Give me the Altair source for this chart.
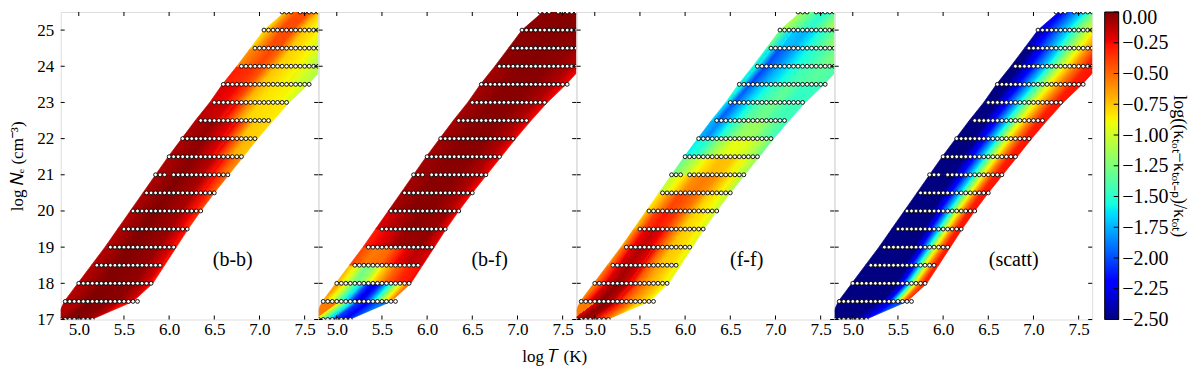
import altair as alt
import numpy as np
import pandas as pd

# ---------------- axes / ticks ----------------
T_DOMAIN = [4.8, 7.65]
NE_DOMAIN = [17.0, 25.5]
T_TICKS = [5.0, 5.5, 6.0, 6.5, 7.0, 7.5]
NE_TICKS = [17, 18, 19, 20, 21, 22, 23, 24, 25]
CB_TICKS = [-2.5, -2.25, -2.0, -1.75, -1.5, -1.25, -1.0, -0.75, -0.5, -0.25, 0.0]
PANEL_LABELS = ["(b-b)", "(b-f)", "(f-f)", "(scatt)"]
X_TITLE = "log 𝑇 (K)"
Y_TITLE = "log 𝑁ₑ (cm⁻³)"
CB_TITLE = "log((κₜₒₜ−κₜₒₜ₋ₚ)/κₜₒₜ)"

# ---------------- band outline (log Ne, left log T, right log T) ----------------
BAND_NE = [17.0, 17.5, 18.0, 18.5, 19.0, 19.5, 20.0, 20.5, 21.0, 21.5,
           22.0, 22.5, 23.0, 23.5, 24.0, 24.5, 25.0, 25.5]
BAND_LEFT = [4.75, 4.84, 4.99, 5.14, 5.29, 5.43, 5.57, 5.71, 5.85, 5.99,
             6.14, 6.29, 6.45, 6.59, 6.75, 6.90, 7.05, 7.28]
BAND_RIGHT = [5.14, 5.60, 5.82, 5.95, 6.08, 6.21, 6.35, 6.50, 6.66, 6.82,
              6.98, 7.15, 7.33, 7.54, 7.72, 7.88, 8.04, 8.20]

# ---------------- grid points (rows of log Ne) ----------------
ROW_NE = [17.0, 17.5, 18.0, 18.5, 19.0, 19.5, 20.0, 20.5, 21.0, 21.5,
          22.0, 22.5, 23.0, 23.5, 24.0, 24.5, 25.0, 25.5]
ROW_T_START = [4.80, 4.85, 5.00, 5.20, 5.35, 5.50, 5.60, 5.75, 5.85, 6.00,
               6.15, 6.35, 6.50, 6.60, 6.80, 6.95, 7.05, 7.25]
ROW_T_END = [5.15, 5.65, 5.80, 5.90, 6.05, 6.20, 6.35, 6.50, 6.65, 6.80,
             6.95, 7.10, 7.30, 7.55, 7.65, 7.65, 7.65, 7.65]
ROW_T_MISSING = [[], [], [], [], [], [], [], [], [6.00], [],
                 [], [], [], [], [], [], [], [7.40]]
T_STEP = 0.05

# ---------------- colour field: one list per 0.5-dex slab in Ne, stops (s across band, value) ----------------
BB_STOPS = [
    [(0, -0.1), (0.35, 0.0), (0.7, -0.03), (0.9, -0.12), (1, -0.25)],
    [(0, -0.12), (0.35, 0.0), (0.75, -0.03), (0.93, -0.15), (1, -0.25)],
    [(0, -0.12), (0.35, 0.0), (0.75, -0.04), (0.93, -0.18), (1, -0.28)],
    [(0, -0.12), (0.35, 0.0), (0.74, -0.05), (0.93, -0.2), (1, -0.3)],
    [(0, -0.12), (0.35, 0.0), (0.74, -0.06), (0.92, -0.22), (1, -0.32)],
    [(0, -0.12), (0.35, 0.0), (0.74, -0.08), (0.91, -0.25), (1, -0.35)],
    [(0, -0.1), (0.35, 0.0), (0.72, -0.1), (0.9, -0.28), (1, -0.42)],
    [(0, -0.1), (0.35, 0.0), (0.68, -0.1), (0.85, -0.3), (1, -0.5)],
    [(0, -0.1), (0.35, -0.02), (0.62, -0.12), (0.78, -0.3), (0.9, -0.5), (1, -0.6)],
    [(0, -0.1), (0.3, -0.03), (0.55, -0.2), (0.72, -0.45), (0.85, -0.7), (1, -0.75)],
    [(0, -0.1), (0.25, -0.05), (0.5, -0.22), (0.65, -0.45), (0.78, -0.75), (1, -0.8)],
    [(0, -0.12), (0.25, -0.18), (0.4, -0.35), (0.52, -0.6), (0.65, -0.8), (1, -0.85)],
    [(0, -0.2), (0.2, -0.25), (0.32, -0.4), (0.45, -0.7), (0.6, -0.82), (0.85, -0.88), (1, -1.0)],
    [(0, -0.3), (0.2, -0.35), (0.32, -0.45), (0.45, -0.75), (0.6, -0.82), (0.8, -0.95), (1, -1.1)],
    [(0, -0.6), (0.12, -0.5), (0.25, -0.4), (0.35, -0.5), (0.47, -0.78), (0.65, -0.85), (0.8, -1.0), (0.92, -1.15), (1, -1.2)],
    [(0, -0.8), (0.1, -0.6), (0.2, -0.42), (0.32, -0.42), (0.45, -0.75), (0.6, -0.85), (0.72, -1.0), (0.8, -1.15), (1, -1.2)],
    [(0, -0.8), (0.07, -0.6), (0.17, -0.42), (0.3, -0.42), (0.42, -0.75), (0.55, -0.9), (0.62, -1.05), (0.7, -1.15), (1, -1.2)],
]
BF_STOPS = [
    [(0, -0.55), (0.18, -0.85), (0.38, -1.5), (0.55, -2.05), (0.75, -2.2), (1, -1.9)],
    [(0, -0.65), (0.14, -0.95), (0.3, -1.55), (0.43, -2.05), (0.52, -2.3), (0.62, -2.05), (0.74, -1.55), (0.87, -0.95), (1, -0.5)],
    [(0, -0.7), (0.12, -0.95), (0.25, -1.3), (0.36, -1.15), (0.48, -0.8), (0.65, -0.5), (0.82, -0.32), (1, -0.25)],
    [(0, -0.4), (0.2, -0.55), (0.4, -0.5), (0.6, -0.25), (0.8, -0.12), (1, -0.2)],
    [(0, -0.3), (0.25, -0.2), (0.45, -0.06), (0.8, -0.04), (1, -0.22)],
    [(0, -0.2), (0.3, -0.08), (0.5, -0.02), (0.85, -0.06), (1, -0.25)],
    [(0, -0.08), (0.3, -0.02), (0.6, -0.02), (0.85, -0.1), (1, -0.25)],
    [(0, -0.08), (0.3, -0.02), (0.6, -0.02), (0.85, -0.1), (1, -0.25)],
    [(0, -0.08), (0.3, -0.02), (0.6, -0.02), (0.85, -0.1), (1, -0.25)],
    [(0, -0.08), (0.3, -0.02), (0.6, -0.02), (0.85, -0.1), (1, -0.25)],
    [(0, -0.08), (0.3, -0.02), (0.6, -0.02), (0.85, -0.1), (1, -0.25)],
    [(0, -0.08), (0.3, -0.02), (0.6, -0.02), (0.85, -0.1), (1, -0.25)],
    [(0, -0.08), (0.3, -0.02), (0.6, -0.02), (0.85, -0.1), (1, -0.25)],
    [(0, -0.08), (0.3, -0.02), (0.6, -0.02), (0.85, -0.1), (1, -0.25)],
    [(0, -0.03), (0.4, -0.01), (0.7, -0.04), (0.85, -0.1), (1, -0.15)],
    [(0, -0.03), (0.4, -0.01), (0.7, -0.04), (0.85, -0.1), (1, -0.15)],
    [(0, -0.03), (0.4, -0.01), (0.7, -0.04), (0.85, -0.1), (1, -0.15)],
]
FF_STOPS = [
    [(0, -0.55), (0.18, -0.2), (0.35, -0.03), (0.5, -0.08), (0.65, -0.3), (0.8, -0.5), (0.92, -0.65), (1, -0.8)],
    [(0, -0.55), (0.17, -0.18), (0.31, -0.03), (0.45, -0.12), (0.6, -0.4), (0.73, -0.58), (0.89, -0.75), (1, -0.9)],
    [(0, -0.55), (0.16, -0.2), (0.3, -0.07), (0.44, -0.18), (0.57, -0.47), (0.7, -0.65), (0.87, -0.8), (1, -0.95)],
    [(0, -0.6), (0.16, -0.2), (0.3, -0.1), (0.44, -0.2), (0.58, -0.5), (0.72, -0.75), (0.87, -0.8), (1, -0.95)],
    [(0, -0.65), (0.15, -0.25), (0.3, -0.15), (0.44, -0.25), (0.57, -0.5), (0.71, -0.75), (0.87, -0.82), (1, -0.97)],
    [(0, -0.75), (0.15, -0.38), (0.29, -0.28), (0.43, -0.35), (0.57, -0.55), (0.7, -0.78), (0.87, -0.85), (1, -1.0)],
    [(0, -0.85), (0.16, -0.6), (0.3, -0.4), (0.45, -0.45), (0.58, -0.55), (0.72, -0.78), (0.87, -0.88), (1, -1.05)],
    [(0, -1.05), (0.17, -0.85), (0.33, -0.6), (0.49, -0.55), (0.63, -0.6), (0.8, -0.8), (1, -1.1)],
    [(0, -1.3), (0.16, -1.1), (0.33, -0.85), (0.51, -0.72), (0.67, -0.75), (0.85, -0.95), (1, -1.15)],
    [(0, -1.6), (0.15, -1.5), (0.33, -1.15), (0.53, -0.92), (0.7, -0.95), (0.86, -1.1), (1, -1.3)],
    [(0, -1.75), (0.12, -1.85), (0.3, -1.5), (0.5, -1.18), (0.68, -1.15), (0.82, -1.3), (1, -1.45)],
    [(0, -1.65), (0.1, -1.97), (0.27, -1.65), (0.44, -1.38), (0.61, -1.28), (0.79, -1.42), (1, -1.45)],
    [(0, -1.55), (0.12, -1.97), (0.29, -1.65), (0.45, -1.45), (0.62, -1.32), (0.8, -1.48), (1, -1.45)],
    [(0, -1.55), (0.14, -2.02), (0.3, -1.75), (0.45, -1.58), (0.62, -1.42), (0.82, -1.35), (1, -1.4)],
    [(0, -1.5), (0.15, -2.0), (0.28, -1.85), (0.43, -1.62), (0.62, -1.45), (0.8, -1.28), (1, -1.2)],
    [(0, -1.3), (0.16, -1.7), (0.3, -1.75), (0.44, -1.58), (0.63, -1.3), (0.78, -1.1), (1, -0.95)],
    [(0, -1.1), (0.14, -1.3), (0.3, -1.52), (0.45, -1.3), (0.62, -1.0), (0.8, -0.85), (1, -0.8)],
]
SC_STOPS = [
    [(0, -2.5), (0.6, -2.5), (0.85, -2.25), (1.0, -2.0)],
    [(0, -2.5), (0.62, -2.5), (0.72, -2.2), (0.79, -1.65), (0.87, -0.9), (0.93, -0.5), (1.0, -0.3)],
    [(0, -2.5), (0.58, -2.5), (0.67, -2.2), (0.75, -1.65), (0.84, -0.9), (0.9, -0.55), (0.96, -0.3), (1, -0.3)],
    [(0, -2.5), (0.53, -2.5), (0.62, -2.2), (0.71, -1.65), (0.81, -0.9), (0.88, -0.55), (0.95, -0.3), (1, -0.28)],
    [(0, -2.5), (0.48, -2.5), (0.58, -2.2), (0.68, -1.65), (0.79, -0.9), (0.86, -0.55), (0.93, -0.3), (1, -0.27)],
    [(0, -2.5), (0.44, -2.5), (0.54, -2.2), (0.65, -1.65), (0.77, -0.9), (0.85, -0.55), (0.92, -0.3), (1, -0.27)],
    [(0, -2.5), (0.38, -2.5), (0.49, -2.2), (0.62, -1.65), (0.75, -0.9), (0.83, -0.55), (0.91, -0.3), (1, -0.27)],
    [(0, -2.5), (0.34, -2.5), (0.46, -2.2), (0.6, -1.65), (0.74, -0.9), (0.82, -0.55), (0.9, -0.3), (1, -0.27)],
    [(0, -2.5), (0.30, -2.5), (0.43, -2.2), (0.57, -1.65), (0.72, -0.9), (0.81, -0.55), (0.9, -0.3), (1, -0.27)],
    [(0, -2.5), (0.26, -2.5), (0.39, -2.2), (0.54, -1.65), (0.7, -0.9), (0.8, -0.55), (0.9, -0.3), (1, -0.27)],
    [(0, -2.5), (0.22, -2.5), (0.35, -2.2), (0.5, -1.65), (0.67, -0.9), (0.79, -0.55), (0.9, -0.3), (1, -0.27)],
    [(0, -2.5), (0.17, -2.5), (0.3, -2.2), (0.46, -1.65), (0.65, -0.9), (0.78, -0.55), (0.89, -0.3), (1, -0.27)],
    [(0, -2.5), (0.13, -2.5), (0.26, -2.2), (0.43, -1.65), (0.63, -0.9), (0.77, -0.55), (0.89, -0.3), (1, -0.27)],
    [(0, -2.5), (0.10, -2.5), (0.24, -2.2), (0.41, -1.65), (0.6, -0.9), (0.74, -0.55), (0.87, -0.3), (1, -0.27)],
    [(0, -2.5), (0.08, -2.5), (0.22, -2.15), (0.4, -1.65), (0.58, -1.0), (0.72, -0.6), (0.86, -0.3), (1, -0.27)],
    [(0, -2.4), (0.06, -2.35), (0.2, -2.0), (0.37, -1.6), (0.55, -1.05), (0.7, -0.7), (0.85, -0.35), (1, -0.3)],
    [(0, -2.3), (0.1, -2.1), (0.33, -1.6), (0.44, -1.25), (0.58, -1.0), (0.65, -0.85), (0.8, -0.5), (1, -0.3)],
]
PANEL_STOPS = [BB_STOPS, BF_STOPS, FF_STOPS, SC_STOPS]

# ---------------- jet colormap ----------------
JET_R = ([0, 0.35, 0.66, 0.89, 1], [0, 0, 1, 1, 0.5])
JET_G = ([0, 0.125, 0.375, 0.64, 0.91, 1], [0, 0, 1, 1, 0, 0])
JET_B = ([0, 0.11, 0.34, 0.65, 1], [0.5, 1, 1, 0, 0])
JET_BREAKS = sorted(set(JET_R[0] + JET_G[0] + JET_B[0]))
VMIN, VMAX = -2.5, 0.0


def norm(v):
    return min(max((v - VMIN) / (VMAX - VMIN), 0.0), 1.0)


def jet_hex(x):
    r = np.interp(x, *JET_R)
    g = np.interp(x, *JET_G)
    b = np.interp(x, *JET_B)
    return "#%02x%02x%02x" % (int(round(r * 255)), int(round(g * 255)), int(round(b * 255)))


def expand(stops):
    """add gradient stops where the colormap has corners, so SVG interpolation follows jet"""
    out = []
    for (s1, v1), (s2, v2) in zip(stops[:-1], stops[1:]):
        out.append((s1, v1))
        x1, x2 = norm(v1), norm(v2)
        lo, hi = min(x1, x2), max(x1, x2)
        for b in JET_BREAKS:
            if lo < b < hi:
                f = (b - x1) / (x2 - x1)
                out.append((s1 + f * (s2 - s1), VMIN + b * (VMAX - VMIN)))
    out.append(stops[-1])
    return out


def slab_gradient(Lb, Lt, Rb, Rt, stops):
    X0 = min(Lb, Lt)
    X1 = max(Rb, Rt)
    W = X1 - X0
    S = 0.5 * ((Lt - Lb) + (Rt - Rb))
    r = S / W
    c = 1.0 / (1.0 + r * r)
    Lm = 0.5 * (Lb + Lt)
    Rm = 0.5 * (Rb + Rt)
    gs = []
    last = 0.0
    for s, v in expand(stops):
        T = Lm + s * (Rm - Lm)
        t = (T - X0) / W - 0.5 * r
        t = min(max(t, 0.0), 1.0)
        t = max(t, last)
        last = t
        gs.append(alt.GradientStop(color=jet_hex(norm(v)), offset=round(t, 5)))
    return alt.LinearGradient(gradient="linear", stops=gs, x1=0, y1=1,
                              x2=round(c, 5), y2=round(1 + c * r, 5))


# ---------------- layout ----------------
PW, PH = 257.5, 307.5
SERIF = "Liberation Serif"
xscale = alt.Scale(domain=T_DOMAIN, nice=False, zero=False)
yscale = alt.Scale(domain=NE_DOMAIN, nice=False, zero=False)

points = []
for ne, t0, t1, miss in zip(ROW_NE, ROW_T_START, ROW_T_END, ROW_T_MISSING):
    for t in np.round(np.arange(t0, t1 + 1e-9, T_STEP), 2):
        if not any(abs(t - m) < 1e-6 for m in miss):
            points.append({"T": float(t), "Ne": ne})
points_df = pd.DataFrame(points)
tick_t_df = pd.DataFrame({"T": T_TICKS})
tick_ne_df = pd.DataFrame({"Ne": NE_TICKS})


def xenc(field):
    return alt.X(f"{field}:Q", scale=xscale,
                 axis=alt.Axis(values=T_TICKS, format=".1f", ticks=False, domain=False, grid=False,
                               labelFont=SERIF, labelFontSize=17, labelColor="black",
                               labelPadding=2, title=None))


def yenc(field, first):
    if first:
        ax = alt.Axis(values=NE_TICKS, format="d", ticks=False, domain=False, grid=False,
                      labelFont=SERIF, labelFontSize=17, labelColor="black", labelPadding=7,
                      title=Y_TITLE, titleFont=SERIF, titleFontSize=17,
                      titleFontWeight="normal", titleColor="black", titlePadding=10)
    else:
        ax = None
    return alt.Y(f"{field}:Q", scale=yscale, axis=ax)


def panel(i):
    first = i == 0
    layers = []
    for k, stops in enumerate(PANEL_STOPS[i]):
        Nb, Nt = BAND_NE[k], BAND_NE[k + 1]
        Lb, Lt = BAND_LEFT[k], BAND_LEFT[k + 1]
        Rb, Rt = BAND_RIGHT[k], BAND_RIGHT[k + 1]
        grad = slab_gradient(Lb, Lt, Rb, Rt, stops)
        df = pd.DataFrame({"Ne": [Nb, Nt], "L": [Lb, Lt], "R": [Rb, Rt]})
        layers.append(
            alt.Chart(df).mark_area(orient="horizontal", fill=grad, stroke=grad,
                                    strokeWidth=0.7, clip=True)
            .encode(y=yenc("Ne", first), x=xenc("L"), x2="R:Q")
        )
    layers.append(
        alt.Chart(points_df).mark_point(shape="circle", filled=True, fill="white",
                                        stroke="black", strokeWidth=0.9, size=15,
                                        opacity=1, clip=True)
        .encode(x=xenc("T"), y=yenc("Ne", first))
    )
    layers.append(alt.Chart(tick_t_df).mark_rule(color="black", strokeWidth=1)
                  .encode(x=xenc("T"), y=alt.value(0), y2=alt.value(4)))
    layers.append(alt.Chart(tick_t_df).mark_rule(color="black", strokeWidth=1)
                  .encode(x=xenc("T"), y=alt.value(PH), y2=alt.value(PH - 4)))
    layers.append(alt.Chart(tick_ne_df).mark_rule(color="black", strokeWidth=1)
                  .encode(y=yenc("Ne", first), x=alt.value(0), x2=alt.value(4)))
    layers.append(alt.Chart(tick_ne_df).mark_rule(color="black", strokeWidth=1)
                  .encode(y=yenc("Ne", first), x=alt.value(PW), x2=alt.value(PW - 4)))
    label_x = [172, 171, 170, 179][i]
    layers.append(alt.Chart(pd.DataFrame({"lab": [PANEL_LABELS[i]]}))
                  .mark_text(font=SERIF, fontSize=20, color="black")
                  .encode(text="lab:N", x=alt.value(label_x), y=alt.value(248)))
    if i == 1:
        layers.append(alt.Chart(pd.DataFrame({"lab": [X_TITLE]}))
                      .mark_text(font=SERIF, fontSize=17, color="black")
                      .encode(text="lab:N", x=alt.value(236), y=alt.value(345)))
    return alt.layer(*layers).properties(width=PW, height=PH)


# ---------------- colourbar ----------------
cb_grad = alt.LinearGradient(
    gradient="linear", x1=0, y1=1, x2=0, y2=0,
    stops=[alt.GradientStop(color=jet_hex(b), offset=b) for b in JET_BREAKS])
cb_scale = alt.Scale(domain=[VMIN, VMAX], nice=False, zero=False)
cb_axis = alt.Axis(orient="right", values=CB_TICKS, format=".2f", ticks=False, domain=False,
                   grid=False, labelFont=SERIF, labelFontSize=20, labelColor="black",
                   labelPadding=3,
                   labelOffset={"condition": {"test": "datum.value === 0", "value": 5}, "value": 0},
                   title=CB_TITLE, titleFont=SERIF,
                   titleFontSize=18, titleFontWeight="normal", titleColor="black",
                   titleAngle=90, titlePadding=2)
cb_df = pd.DataFrame({"lo": [VMIN], "hi": [VMAX]})
cb_rect = alt.Chart(cb_df).mark_rect(fill=cb_grad, stroke="black", strokeWidth=1).encode(
    y=alt.Y("lo:Q", scale=cb_scale, axis=cb_axis), y2="hi:Q",
    x=alt.value(12), x2=alt.value(26))
cb_ticks = alt.Chart(pd.DataFrame({"v": CB_TICKS})).mark_rule(color="black", strokeWidth=1).encode(
    y=alt.Y("v:Q", scale=cb_scale, axis=cb_axis), x=alt.value(26), x2=alt.value(21))
colorbar = alt.layer(cb_rect, cb_ticks).properties(
    width=26, height=PH, view=alt.ViewBackground(stroke="transparent"))

LEFT, TOP = 52.7, 4
chart = alt.hconcat(*[panel(i) for i in range(4)], colorbar, spacing=0, bounds="flush").properties(
    autosize=alt.AutoSizeParams(type="none"),
    padding={"left": LEFT, "top": TOP, "right": 1184 - LEFT, "bottom": 360 - TOP},
).configure_view(stroke="black", strokeWidth=1).configure(background="white")

chart.save("out.html", embed_options={"renderer": "svg", "actions": False})
